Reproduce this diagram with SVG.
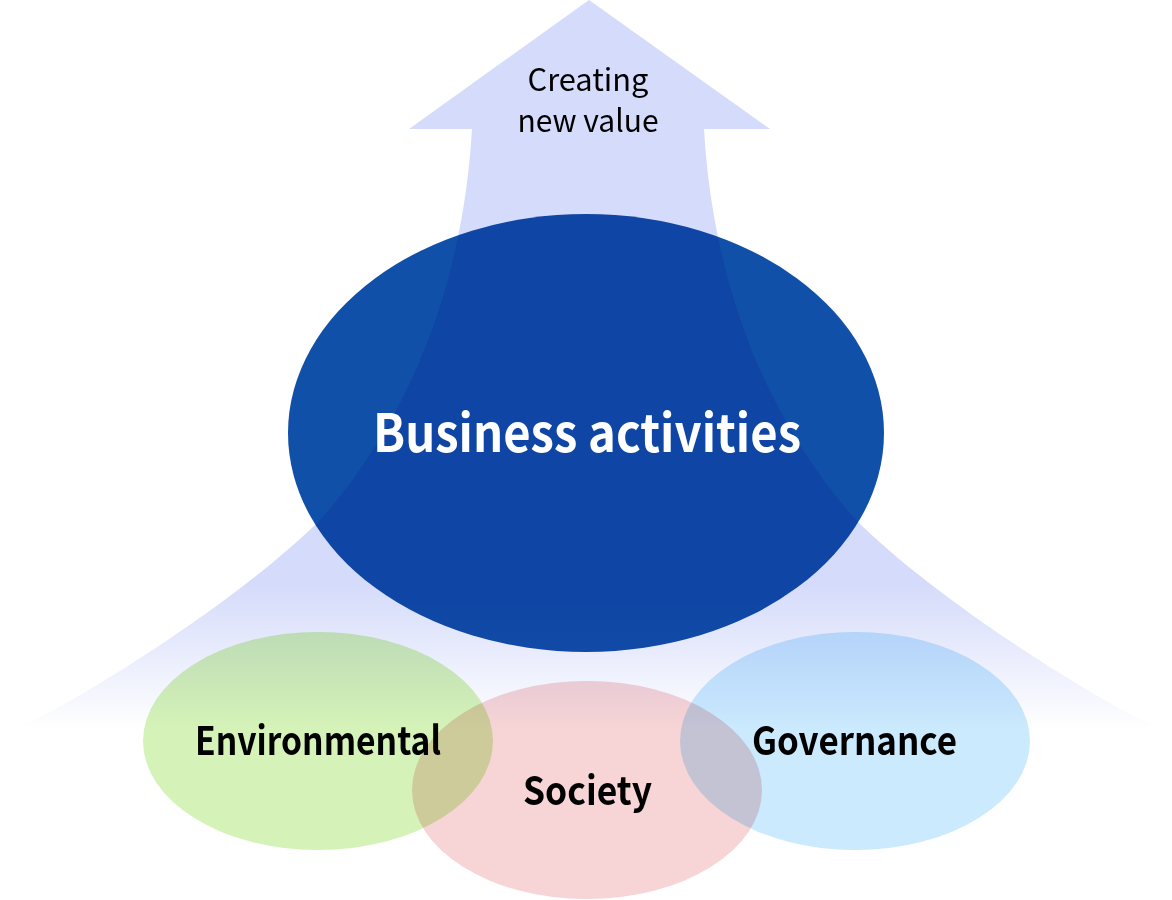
<svg xmlns="http://www.w3.org/2000/svg" width="1172" height="900" viewBox="0 0 1172 900">
  <style>
    .blend { mix-blend-mode: multiply; }
    .lbl { font-family: "Noto Sans CJK JP", "Noto Sans", "Liberation Sans", sans-serif; text-anchor: middle; }
    .bold { font-weight: bold; fill: #000000; }
  </style>
  <defs>
    <linearGradient id="arrowGrad" gradientUnits="userSpaceOnUse" x1="0" y1="0" x2="0" y2="730">
      <stop offset="0" stop-color="#d5dbfa"/>
      <stop offset="0.8" stop-color="#d5dbfa"/>
      <stop offset="1" stop-color="#ffffff"/>
    </linearGradient>
  </defs>
  <rect width="1172" height="900" fill="#ffffff"/>

  <g id="connectors">
    <g id="value-arrow">
      <path d="M589,0 L770,129 L704,129 C714,300 776,430 856,520 C936,600 1096,700 1156,727 L20,727 C80,700 240,600 320,520 C400,430 462,300 472,129 L409,129 Z" fill="url(#arrowGrad)"/>
      <text class="lbl" x="588" y="91" font-size="31" fill="#000000" textLength="121" lengthAdjust="spacingAndGlyphs">Creating</text>
      <text class="lbl" x="588" y="132" font-size="31" fill="#000000" textLength="141" lengthAdjust="spacingAndGlyphs">new value</text>
    </g>
  </g>

  <g id="business">
    <ellipse class="blend" cx="586" cy="433" rx="298" ry="219" fill="#1150a8"/>
    <text class="lbl" x="587" y="452" font-size="52" font-weight="bold" fill="#ffffff" textLength="428" lengthAdjust="spacingAndGlyphs">Business activities</text>
  </g>

  <g id="environmental">
    <ellipse class="blend" cx="318" cy="741" rx="175" ry="109" fill="#d5f3b8"/>
  </g>
  <g id="society">
    <ellipse class="blend" cx="587" cy="790" rx="175" ry="109" fill="#f7d5d6"/>
  </g>
  <g id="governance">
    <ellipse class="blend" cx="855" cy="741" rx="175" ry="109" fill="#cbeafd"/>
  </g>

  <g id="labels">
    <text class="lbl bold" x="318" y="755" font-size="39" textLength="246" lengthAdjust="spacingAndGlyphs">Environmental</text>
    <text class="lbl bold" x="587.5" y="805" font-size="39" textLength="129" lengthAdjust="spacingAndGlyphs">Society</text>
    <text class="lbl bold" x="854.5" y="755" font-size="39" textLength="205" lengthAdjust="spacingAndGlyphs">Governance</text>
  </g>
</svg>
